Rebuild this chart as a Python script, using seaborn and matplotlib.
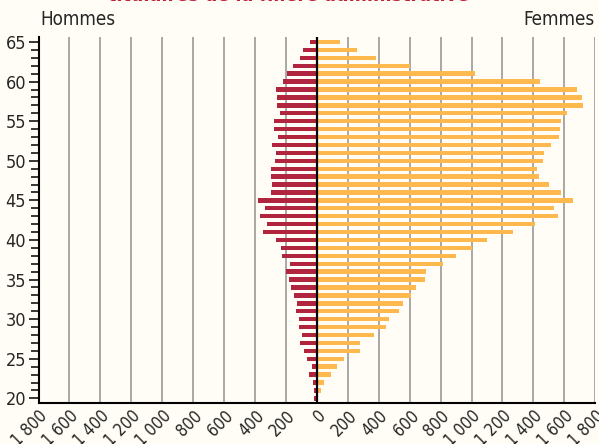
import numpy as np
import pandas as pd
import matplotlib
matplotlib.use("Agg")
import matplotlib.pyplot as plt
import seaborn as sns

# ages 20 -> 65
ages = list(range(20, 66))

# effectifs hommes (de 20 a 65 ans)
hommes = [16, 16, 28, 50, 32, 63, 82, 112, 96, 114,
          118, 133, 131, 148, 166, 183, 202, 172, 224, 232,
          267, 349, 321, 370, 334, 379, 297, 288, 297, 297,
          274, 263, 288, 250, 275, 275, 239, 256, 260, 263,
          222, 192, 153, 112, 93, 43]

# effectifs femmes
femmes = [10, 26, 47, 94, 133, 174, 281, 279, 368, 449,
          469, 531, 555, 608, 639, 697, 703, 815, 901, 1006,
          1103, 1266, 1408, 1561, 1535, 1654, 1576, 1499, 1434, 1426,
          1460, 1466, 1516, 1565, 1574, 1576, 1619, 1718, 1712, 1679,
          1441, 1023, 604, 383, 262, 150]

x_ticks = list(range(-1800, 2000, 200))
x_labels = ["1 800", "1 600", "1 400", "1 200", "1 000", "800", "600", "400", "200",
            "0", "200", "400", "600", "800", "1 000", "1 200", "1 400", "1 600", "1 800"]

col_h = "#b0253d"
col_f = "#fdb94e"
bg = "#fffdf5"

df = pd.DataFrame({"age": ages, "hommes": [-v for v in hommes], "femmes": femmes})

sns.set_style("white")
plt.rcParams['font.family'] = ['DejaVu Sans']
plt.rcParams['font.stretch'] = 'condensed'

fig = plt.figure(figsize=(5.99, 4.44), dpi=100, facecolor=bg)
ax = fig.add_axes([0.0643, 0.093, 0.9295, 0.824])
ax.set_facecolor(bg)

# grille verticale
for xv in x_ticks:
    if xv != 0 and xv != -1800:
        ax.axvline(xv, color="#a0a0a0", lw=1.3, zorder=0)

sns.barplot(data=df, x="hommes", y="age", orient="y", native_scale=True,
            color=col_h, width=0.55, saturation=1, linewidth=0, ax=ax, zorder=2)
sns.barplot(data=df, x="femmes", y="age", orient="y", native_scale=True,
            color=col_f, width=0.55, saturation=1, linewidth=0, ax=ax, zorder=2)

ax.axvline(0, color="black", lw=1.6, zorder=3)

ax.set_xlim(-1800, 1800)
ax.set_ylim(19.45, 65.65)
ax.set_xlabel("")
ax.set_ylabel("")

ax.set_xticks(x_ticks)
ax.set_xticklabels(x_labels, rotation=45, ha="right", va="top", rotation_mode="anchor",
                   fontsize=12, fontstretch="condensed")
ax.tick_params(axis="x", length=0, pad=3)

ax.set_yticks(range(20, 66, 5))
ax.set_yticks(range(20, 66), minor=True)
ax.tick_params(axis="y", which="major", length=7, width=1.3, pad=2, labelsize=13, left=True)
ax.tick_params(axis="y", which="minor", length=6, width=1.3, left=True)
for lab in ax.get_yticklabels():
    lab.set_fontstretch("condensed")

for s in ["top", "right"]:
    ax.spines[s].set_visible(False)
for s in ["left", "bottom"]:
    ax.spines[s].set_color("black")
    ax.spines[s].set_linewidth(1.5)

fig.text(0.067, 0.955, "Hommes", fontsize=13.5, fontstretch="condensed", ha="left", va="center")
fig.text(0.992, 0.955, "Femmes", fontsize=13.5, fontstretch="condensed", ha="right", va="center")
fig.text(0.482, 0.997, "titulaires de la filière administrative", fontsize=14,
         fontweight="bold", fontstretch="condensed", color="#c0203a", ha="center", va="baseline")

fig.savefig("out.png", dpi=100, facecolor=bg)
